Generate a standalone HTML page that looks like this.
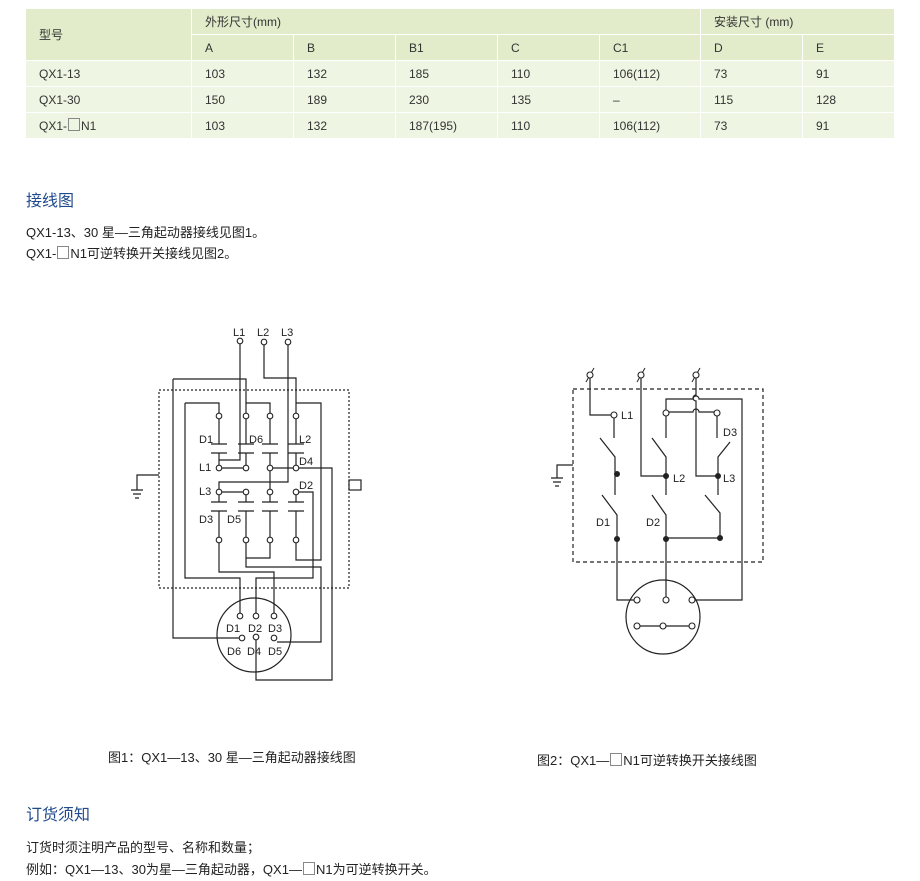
<!DOCTYPE html>
<html><head><meta charset="utf-8"><style>
body{margin:0;background:#fff;width:920px;height:881px;position:relative;font-family:"Liberation Sans","Noto Sans CJK SC",sans-serif;color:#222;overflow:hidden}
table{position:absolute;left:25px;top:8px;border-collapse:collapse;font-size:12px;width:870px}
td{height:25px;padding:0 0 0 13px;border:1px solid #fff;color:#333}
.h td{background:#e2ecca}
.b td{background:#eef5e2}
.t{position:absolute;white-space:nowrap}
.blue{color:#1f4a8c;font-size:16px}
.sq{display:inline-block;width:10px;height:11px;border:1px solid #888;vertical-align:-1px;margin:0 1px}
</style></head><body>
<table>
<tr class="h"><td rowspan="2" style="width:152px">型号</td><td colspan="5">外形尺寸(mm)</td><td colspan="2">安装尺寸 (mm)</td></tr>
<tr class="h"><td style="width:88px">A</td><td style="width:88px">B</td><td style="width:88px">B1</td><td style="width:88px">C</td><td style="width:87px">C1</td><td style="width:88px">D</td><td>E</td></tr>
<tr class="b"><td>QX1-13</td><td>103</td><td>132</td><td>185</td><td>110</td><td>106(112)</td><td>73</td><td>91</td></tr>
<tr class="b"><td>QX1-30</td><td>150</td><td>189</td><td>230</td><td>135</td><td>–</td><td>115</td><td>128</td></tr>
<tr class="b"><td>QX1-<span class="sq"></span>N1</td><td>103</td><td>132</td><td>187(195)</td><td>110</td><td>106(112)</td><td>73</td><td>91</td></tr>
</table>
<div class="t blue" style="left:26px;top:187px">接线图</div>
<div class="t" style="left:26px;top:222px;font-size:13px">QX1-13、30 星—三角起动器接线见图1。</div>
<div class="t" style="left:26px;top:243px;font-size:13px">QX1-<span class="sq"></span>N1可逆转换开关接线见图2。</div>
<div class="t" style="left:108px;top:747px;font-size:13px">图1：QX1—13、30 星—三角起动器接线图</div>
<div class="t" style="left:537px;top:750px;font-size:13px">图2：QX1—<span class="sq"></span>N1可逆转换开关接线图</div>
<div class="t blue" style="left:26px;top:801px">订货须知</div>
<div class="t" style="left:26px;top:837px;font-size:13px">订货时须注明产品的型号、名称和数量；</div>
<div class="t" style="left:26px;top:859px;font-size:13px">例如：QX1—13、30为星—三角起动器，QX1—<span class="sq"></span>N1为可逆转换开关。</div>

<svg width="920" height="881" style="position:absolute;left:0;top:0" font-family="Liberation Sans, sans-serif" font-size="11">
<g stroke="#222" stroke-width="1.2" fill="none">
<rect x="159" y="390" width="190" height="198" stroke-dasharray="2,2"/>
<rect x="349" y="480" width="12" height="10"/>
<path d="M159 475H137V490M131 490h12M133 494h8M135 498h4"/>
<!-- L wires -->
<path d="M240 344V460H219M264 345V378H296V413M288 345V482H219V489"/>
<path d="M173 379H246V413M246 403H270V413M173 379V638H239"/>
<path d="M185 403H219V413M185 403V578H240V613"/>
<path d="M296 403H321V560H296V543"/>
<!-- contact stubs top -->
<path d="M219 419V444M211 444h16M211 453h16M219 453V465"/>
<path d="M246 419V444M238 444h16M238 453h16M246 453V465"/>
<path d="M270 419V444M262 444h16M262 453h16M270 453V465"/>
<path d="M296 419V444M288 444h16M288 453h16M296 453V465"/>
<path d="M222 468H243M273 468H293M299 468H332V680H256V640M270 471V489"/>
<path d="M222 492H243M299 492H313V578H256V613"/>
<path d="M219 495V502M211 502h16M211 511h16M219 511V537"/>
<path d="M246 495V502M238 502h16M238 511h16M246 511V537"/>
<path d="M270 495V502M262 502h16M262 511h16M270 511V537"/>
<path d="M296 495V502M288 502h16M288 511h16M296 511V537"/>
<path d="M219 543V572H274V613M246 543V567H321V642H277M246 558H270V543"/>
<circle cx="254" cy="635" r="37"/>
</g>
<g stroke="#222" stroke-width="1.1" fill="#fff">
<circle cx="240" cy="341" r="2.8"/><circle cx="264" cy="342" r="2.8"/><circle cx="288" cy="342" r="2.8"/>
<circle cx="219" cy="416" r="2.8"/><circle cx="246" cy="416" r="2.8"/><circle cx="270" cy="416" r="2.8"/><circle cx="296" cy="416" r="2.8"/>
<circle cx="219" cy="468" r="2.8"/><circle cx="246" cy="468" r="2.8"/><circle cx="270" cy="468" r="2.8"/><circle cx="296" cy="468" r="2.8"/>
<circle cx="219" cy="492" r="2.8"/><circle cx="246" cy="492" r="2.8"/><circle cx="270" cy="492" r="2.8"/><circle cx="296" cy="492" r="2.8"/>
<circle cx="219" cy="540" r="2.8"/><circle cx="246" cy="540" r="2.8"/><circle cx="270" cy="540" r="2.8"/><circle cx="296" cy="540" r="2.8"/>
<circle cx="240" cy="616" r="2.8"/><circle cx="256" cy="616" r="2.8"/><circle cx="274" cy="616" r="2.8"/>
<circle cx="242" cy="638" r="2.8"/><circle cx="256" cy="637" r="2.8"/><circle cx="274" cy="638" r="2.8"/>
</g>
<g fill="#222">
<text x="233" y="336">L1</text><text x="257" y="336">L2</text><text x="281" y="336">L3</text>
<text x="199" y="443">D1</text><text x="249" y="443">D6</text><text x="299" y="443">L2</text>
<text x="199" y="471">L1</text><text x="299" y="465">D4</text>
<text x="199" y="495">L3</text><text x="299" y="489">D2</text>
<text x="199" y="523">D3</text><text x="227" y="523">D5</text>
<text x="226" y="632">D1</text><text x="248" y="632">D2</text><text x="268" y="632">D3</text>
<text x="227" y="655">D6</text><text x="247" y="655">D4</text><text x="268" y="655">D5</text>
</g>

<!-- diagram 2 -->
<g stroke="#222" stroke-width="1.2" fill="none">
<rect x="573" y="389" width="190" height="173" stroke-dasharray="4,3"/>
<path d="M573 465H557V478M551 478h12M553 482h8M555 486h4"/>
<path d="M590 378V415H611M614 418V438M600 438L615 457V495M602 495L617 515V600H634"/>
<path d="M641 378V476H666M666 416V438M652 438L666 457V495M652 495L666 515V597"/>
<path d="M696 378V395a3 3 0 0 0 0 6V476H718M717 416V438M730 442L718 457V495M705 495L720 513V538H666"/>
<path d="M666 410V399H693a3 3 0 0 1 6 0H742V600H695"/>
<path d="M669 412H693a3 3 0 0 1 6 0H714"/>
<path d="M640 626H660M666 626H689"/>
<circle cx="663" cy="617" r="37"/>
<path d="M586 382L594 368M637 382L645 368M692 382L700 368" stroke-width="1"/>
</g>
<g stroke="#222" stroke-width="1.1" fill="#fff">
<circle cx="590" cy="375" r="3"/><circle cx="641" cy="375" r="3"/><circle cx="696" cy="375" r="3"/>
<circle cx="614" cy="415" r="3"/><circle cx="666" cy="413" r="3"/><circle cx="717" cy="413" r="3"/>
<circle cx="637" cy="600" r="3"/><circle cx="666" cy="600" r="3"/><circle cx="692" cy="600" r="3"/>
<circle cx="637" cy="626" r="3"/><circle cx="663" cy="626" r="3"/><circle cx="692" cy="626" r="3"/>
</g>
<g fill="#222">
<circle cx="617" cy="474" r="3"/><circle cx="666" cy="476" r="3"/><circle cx="718" cy="476" r="3"/>
<circle cx="617" cy="539" r="3"/><circle cx="666" cy="539" r="3"/><circle cx="720" cy="538" r="3"/>
<text x="621" y="419">L1</text><text x="673" y="482">L2</text><text x="723" y="482">L3</text>
<text x="723" y="436">D3</text><text x="596" y="526">D1</text><text x="646" y="526">D2</text>
</g>
</svg>
</body></html>
